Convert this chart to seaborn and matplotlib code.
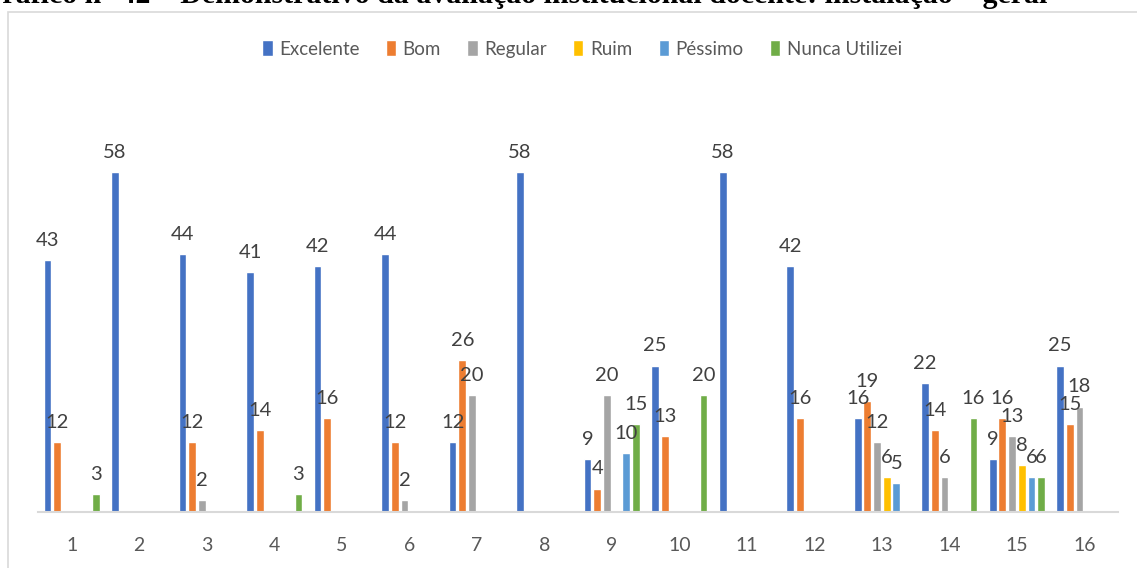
import pandas as pd
import matplotlib.pyplot as plt
import seaborn as sns
from matplotlib.patches import Rectangle

# Dados do gráfico
itens = [str(i) for i in range(1, 17)]
series = ['Excelente', 'Bom', 'Regular', 'Ruim', 'Péssimo', 'Nunca Utilizei']
excelente = [43, 58, 44, 41, 42, 44, 12, 58, 9, 25, 58, 42, 16, 22, 9, 25]
bom = [12, 0, 12, 14, 16, 12, 26, 0, 4, 13, 0, 16, 19, 14, 16, 15]
regular = [0, 0, 2, 0, 0, 2, 20, 0, 20, 0, 0, 0, 12, 6, 13, 18]
ruim = [0, 0, 0, 0, 0, 0, 0, 0, 0, 0, 0, 0, 6, 0, 8, 0]
pessimo = [0, 0, 0, 0, 0, 0, 0, 0, 10, 0, 0, 0, 5, 0, 6, 0]
nunca = [3, 0, 0, 3, 0, 0, 0, 0, 15, 20, 0, 0, 0, 16, 6, 0]
cores = ['#4472C4', '#ED7D31', '#A5A5A5', '#FFC000', '#5B9BD5', '#70AD47']

valores = [excelente, bom, regular, ruim, pessimo, nunca]
linhas = []
for nome, vals in zip(series, valores):
    for item, v in zip(itens, vals):
        linhas.append({'item': item, 'serie': nome, 'valor': v})
df = pd.DataFrame(linhas)

sns.set_style('white')
plt.rcParams['font.family'] = ['Lato', 'DejaVu Sans']

fig = plt.figure(figsize=(11.37, 5.68), dpi=100)
ax = fig.add_axes([0.0334, 0.0986, 0.95, 0.7218])

sns.barplot(data=df, x='item', y='valor', hue='serie', hue_order=series,
            palette=cores, width=0.86, gap=0.2, ax=ax, errorbar=None,
            saturation=1)

# rótulos de dados (sem zeros)
for cont, vals in zip(ax.containers, valores):
    ax.bar_label(cont, labels=[str(v) if v else '' for v in vals],
                 padding=8, fontsize=14.5, color='#404040')

ax.set_ylim(0, 70)
ax.set_xlim(-0.5, 15.5)
ax.set_xlabel('')
ax.set_ylabel('')
ax.set_yticks([])
ax.tick_params(axis='x', length=0, labelsize=14, labelcolor='#595959', pad=18)
for s in ['top', 'right', 'left']:
    ax.spines[s].set_visible(False)
ax.spines['bottom'].set_color('#d9d9d9')
ax.spines['bottom'].set_linewidth(1.5)

sns.move_legend(ax, 'center', bbox_to_anchor=(582 / 1137, 1 - 49 / 568),
                bbox_transform=fig.transFigure, ncol=6, frameon=False,
                title=None, fontsize=13.5, handlelength=0.55, handleheight=0.9,
                handletextpad=0.35, columnspacing=1.4)
for t in ax.get_legend().get_texts():
    t.set_color('#595959')

# moldura do gráfico e título cortado no topo
fig.patches.append(Rectangle((8 / 1137, -0.1), 1.2, 1 - 12 / 568 + 0.1,
                             transform=fig.transFigure, fill=False,
                             edgecolor='#d9d9d9', linewidth=1.2))
fig.text(1047 / 1137, 1 - 3 / 568,
         'Gráfico n° 42 – Demonstrativo da avaliação institucional docente: instalação – geral',
         ha='right', va='baseline', fontsize=21.5, fontweight='bold',
         family='Liberation Serif', color='black')

fig.savefig('out.png', dpi=100)
